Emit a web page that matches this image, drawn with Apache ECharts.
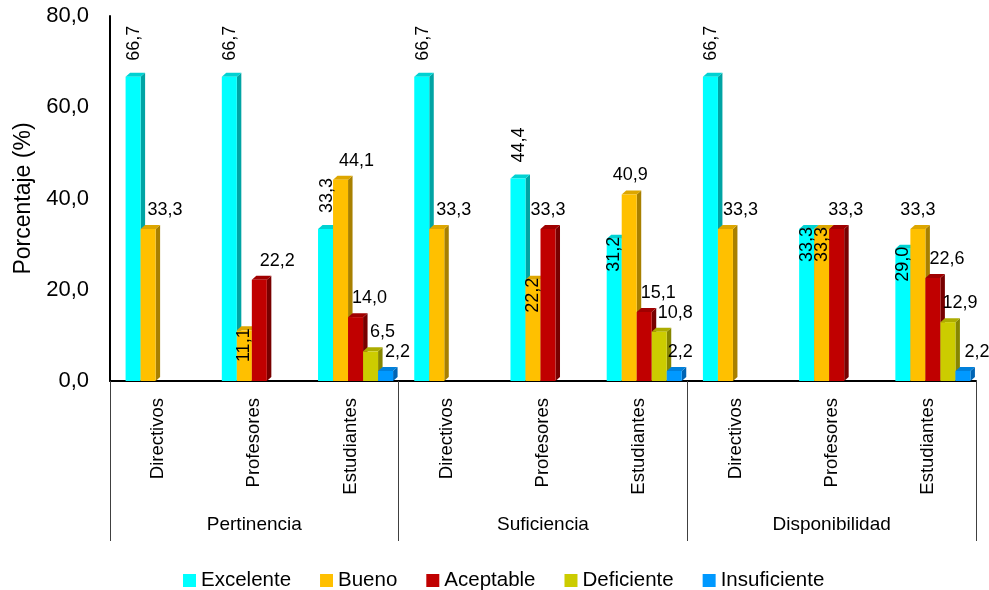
<!DOCTYPE html>
<html><head><meta charset="utf-8">
<script src="https://cdn.jsdelivr.net/npm/echarts@6/dist/echarts.min.js"></script>
<style>html,body{margin:0;padding:0;background:#fff}#c{width:989px;height:590px}</style>
</head><body><div id="c"></div>
<script>
// ---- data ----
const categories = ['Directivos','Profesores','Estudiantes','Directivos','Profesores','Estudiantes','Directivos','Profesores','Estudiantes'];
const groups = ['Pertinencia','Suficiencia','Disponibilidad'];
const seriesNames = ['Excelente','Bueno','Aceptable','Deficiente','Insuficiente'];
const excelente    = [66.7, 66.7, 33.3, 66.7, 44.4, 31.2, 66.7, 33.3, 29.0];
const bueno        = [33.3, 11.1, 44.1, 33.3, 22.2, 40.9, 33.3, 33.3, 33.3];
const aceptable    = [null, 22.2, 14.0, null, 33.3, 15.1, null, 33.3, 22.6];
const deficiente   = [null, null, 6.5,  null, null, 10.8, null, null, 12.9];
const insuficiente = [null, null, 2.2,  null, null, 2.2,  null, null, 2.2];
const yTicks = [0, 20, 40, 60, 80];

// ---- styling (not data) ----
const palette = [
  {front:'#00FFFF', top:'#00D2D2', side:'#00A4A4'},
  {front:'#FFC000', top:'#DDA600', side:'#A88000'},
  {front:'#C00000', top:'#A00000', side:'#780000'},
  {front:'#CCCC00', top:'#ACAC00', side:'#868600'},
  {front:'#0099FF', top:'#0080DA', side:'#0064B4'}
];
// label mode per item: u = rotated above, i = rotated inside top, h = horizontal above
const labelModes = [
  ['u','u','u','u','u','i','u','i','i'],
  ['h','i','h','h','i','h','h','i','h'],
  ['h','h','h','h','h','h','h','h','h'],
  ['h','h','h','h','h','h','h','h','h'],
  ['h','h','h','h','h','h','h','h','h']
];
const labelDx = [
  [0,0,0,0,0,0,0,0,0],
  [17,0,16,17,0,1,15,0,0],
  [0,18,14,0,0,14,0,9,14],
  [0,0,12,0,0,16,0,0,12],
  [0,0,12,0,0,6,0,0,14]
];
const FONT = '"Liberation Sans",Arial,sans-serif';

const allValues = [excelente, bueno, aceptable, deficiente, insuficiente];
const fmt = v => v.toFixed(1).replace('.', ',');

function makeRender(si) {
  return function (params, api) {
    const idx = api.value(0), v = api.value(1);
    if (v == null || isNaN(v)) return null;
    const band = api.size([1, 0])[0];
    const cx = api.coord([idx, 0])[0];
    const yBase = api.coord([idx, 0])[1];
    const yTop = api.coord([idx, v])[1];
    const w = band * 0.156;
    const x = cx - band / 2 + band * 0.162 + si * w;
    const dx = 4.5, dy = -4;
    const c = palette[si];
    const children = [
      {type:'polygon', shape:{points:[[x+w,yTop],[x+w+dx,yTop+dy],[x+w+dx,yBase+dy],[x+w,yBase]]}, style:{fill:c.side}},
      {type:'polygon', shape:{points:[[x,yTop],[x+dx,yTop+dy],[x+w+dx,yTop+dy],[x+w,yTop]]}, style:{fill:c.top}},
      {type:'rect', shape:{x:x, y:yTop, width:w, height:yBase-yTop}, style:{fill:c.front}}
    ];
    const mode = labelModes[si][idx];
    const bc = x + w / 2;
    const font = '18px ' + FONT;
    if (mode === 'u') {
      children.push({type:'text', x:bc+1, y:yTop-16, rotation:Math.PI/2, z2:100,
        style:{text:fmt(v), font:font, fill:'#000', align:'left', verticalAlign:'middle'}});
    } else if (mode === 'i') {
      children.push({type:'text', x:bc, y:yTop-2, rotation:Math.PI/2, z2:100,
        style:{text:fmt(v), font:font, fill:'#000', align:'right', verticalAlign:'middle'}});
    } else {
      children.push({type:'text', x:bc+labelDx[si][idx], y:yTop-19, z2:100,
        style:{text:fmt(v), font:font, fill:'#000', align:'center', verticalAlign:'middle'}});
    }
    return {type:'group', children:children};
  };
}

const series = seriesNames.map((name, si) => ({
  type:'custom',
  name:name,
  xAxisIndex:0,
  yAxisIndex:0,
  itemStyle:{color:palette[si].front},
  encode:{x:0, y:1},
  renderItem:makeRender(si),
  data:allValues[si].map((v, i) => [i, v]).filter(d => d[1] != null)
}));

const chart = echarts.init(document.getElementById('c'), null, {renderer:'canvas'});
chart.setOption({
  animation:false,
  backgroundColor:'#fff',
  grid:{left:110, right:13, top:16, bottom:209, containLabel:false},
  legend:{
    data:seriesNames, top:565, left:178, icon:'rect', itemWidth:13, itemHeight:13, itemGap:29,
    textStyle:{fontFamily:FONT, fontSize:20.5, color:'#000'}
  },
  xAxis:[
    {type:'category', data:categories, position:'bottom', boundaryGap:true,
     axisLine:{show:true, lineStyle:{color:'#000', width:2}},
     axisTick:{show:false},
     axisLabel:{interval:0, rotate:90, margin:17, fontFamily:FONT, fontSize:18.5, color:'#000'}},
    {type:'category', data:groups, position:'bottom', boundaryGap:true,
     axisLine:{show:false},
     axisTick:{show:true, interval:0, length:160, lineStyle:{color:'#404040', width:1}},
     axisLabel:{interval:0, margin:134, fontFamily:FONT, fontSize:19, color:'#000'}}
  ],
  yAxis:{
    type:'value', min:yTicks[0], max:yTicks[yTicks.length-1], interval:yTicks[1]-yTicks[0],
    name:'Porcentaje (%)', nameLocation:'middle', nameGap:75,
    nameTextStyle:{fontFamily:FONT, fontSize:23, color:'#000'},
    axisLine:{show:true, lineStyle:{color:'#000', width:2}},
    axisTick:{show:false},
    splitLine:{show:false},
    axisLabel:{margin:21, fontFamily:FONT, fontSize:22, color:'#000', formatter:fmt}
  },
  series:series
});
</script></body></html>
